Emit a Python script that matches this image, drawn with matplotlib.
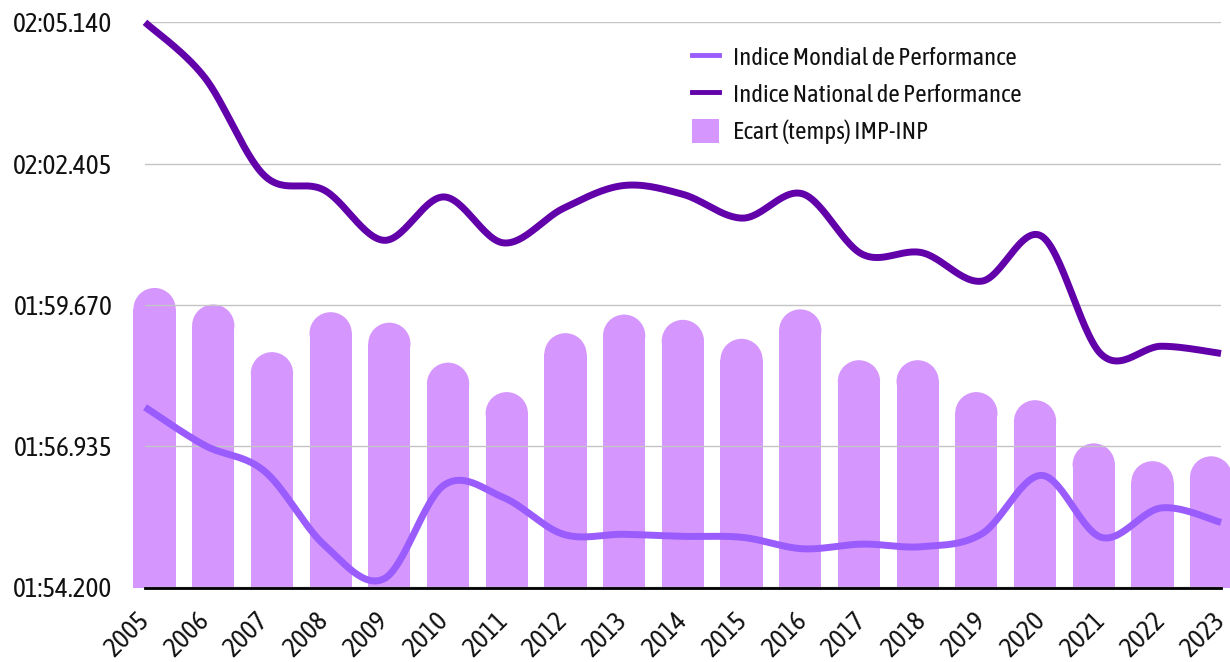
import matplotlib

matplotlib.use("Agg")
import matplotlib.pyplot as plt
import numpy as np
from matplotlib.lines import Line2D
from matplotlib.patches import Ellipse, Patch, Rectangle

plt.rcParams["font.family"] = ["Asap Condensed", "DejaVu Sans"]

years = [str(y) for y in range(2005, 2024)]

# times in seconds (01:54.200 -> 114.2)
inp = [125.14, 124.07, 122.17, 121.89, 120.92, 121.76, 120.87, 121.54, 121.98, 121.81,
       121.35, 121.82, 120.65, 120.68, 120.13, 121.00, 118.71, 118.87, 118.73]
imp = [117.69, 116.95, 116.45, 115.02, 114.37, 116.18, 115.94, 115.23, 115.23, 115.19,
       115.17, 114.95, 115.04, 114.99, 115.24, 116.37, 115.17, 115.74, 115.46]
ecart = [7.42, 7.01, 5.83, 6.82, 6.56, 5.57, 4.84, 6.30, 6.76, 6.63,
         6.16, 6.89, 5.63, 5.63, 4.84, 4.64, 3.57, 3.13, 3.25]

y_ticks = [114.2, 116.935, 119.67, 122.405, 125.14]

C_INP = "#6200aa"
C_IMP = "#9a5cfc"
C_BAR = "#d596fe"

W, H, DPI = 1230, 662, 100
RECT = [145 / W, (H - 587.5) / H, (1221 - 145) / W, (587.5 - 22.3) / H]


def fmt_time(v):
    v = round(v, 3)
    m = int(v // 60)
    return f"{m:02d}:{v - 60 * m:06.3f}"


def smooth(xs, ys, n=30, k=1.0):
    # Catmull-Rom through every point, drawn as cubic bezier pieces
    p = np.column_stack([xs, ys]).astype(float)
    p_ext = np.vstack([p[0], p, p[-1]])
    t = np.linspace(0, 1, n)[:, None]
    out = []
    for i in range(len(p) - 1):
        a, b = p_ext[i + 1], p_ext[i + 2]
        c1 = a + (p_ext[i + 2] - p_ext[i]) / 6 * k
        c2 = b - (p_ext[i + 3] - p_ext[i + 1]) / 6 * k
        seg = ((1 - t) ** 3) * a + 3 * ((1 - t) ** 2) * t * c1 + 3 * (1 - t) * t ** 2 * c2 + t ** 3 * b
        out.append(seg if i == 0 else seg[1:])
    out = np.vstack(out)
    return out[:, 0], out[:, 1]


fig = plt.figure(figsize=(W / DPI, H / DPI), dpi=DPI)

# bars live on their own hidden axes (secondary scale 0..14)
axb = fig.add_axes(RECT, zorder=1)
bx_lo, bx_hi = -0.163, 18.168
axb.set_xlim(bx_lo, bx_hi)
axb.set_ylim(0, 14)
axb.axis("off")

bar_w = 0.72
px_x = RECT[2] * W / (bx_hi - bx_lo)
px_y = RECT[3] * H / 14
r_y = bar_w / 2 * px_x / px_y
for i, v in enumerate(ecart):
    axb.add_patch(Rectangle((i - bar_w / 2, 0), bar_w, v - r_y, color=C_BAR, lw=0, clip_on=False))
    axb.add_patch(Ellipse((i, v - r_y), bar_w, 2 * r_y, color=C_BAR, lw=0, clip_on=False))

ax = fig.add_axes(RECT, zorder=2)
ax.patch.set_visible(False)
x = np.arange(len(years))
ax.set_xlim(0, len(years) - 1)
ax.set_ylim(y_ticks[0], y_ticks[-1])

sx, sy = smooth(x, imp)
ax.plot(sx, sy, color=C_IMP, lw=5, solid_capstyle="butt", clip_on=False, zorder=3)
sx, sy = smooth(x, inp)
ax.plot(sx, sy, color=C_INP, lw=5, solid_capstyle="butt", clip_on=False, zorder=4)

ax.set_yticks(y_ticks)
ax.set_yticklabels([fmt_time(v) for v in y_ticks], fontsize=19.5)
ax.set_xticks(x)
ax.set_xticklabels(years, fontsize=19.5, rotation=45, ha="right", va="center", rotation_mode="anchor")
ax.tick_params(axis="both", length=0, colors="#111111")
ax.tick_params(axis="y", pad=23.5)
ax.tick_params(axis="x", pad=21)
ax.grid(axis="y", color="#c4c4c4", lw=1.0)
ax.grid(axis="x", visible=False)
for s in ("top", "right", "left"):
    ax.spines[s].set_visible(False)
ax.spines["bottom"].set_linewidth(2.0)
ax.spines["bottom"].set_color("black")
ax.spines["bottom"].set_zorder(5)

handles = [
    Line2D([], [], color=C_IMP, lw=3.5),
    Line2D([], [], color=C_INP, lw=3.5),
    Patch(color=C_BAR, lw=0),
]
labels = ["Indice Mondial de Performance", "Indice National de Performance", "Ecart (temps) IMP-INP"]
fig.legend(handles, labels, loc="upper left", bbox_to_anchor=(692 / W, 1 - 45 / H),
           frameon=False, fontsize=17.8, labelcolor="#111111", handlelength=1.1, handleheight=1.1,
           handletextpad=0.55, labelspacing=0.47, borderpad=0, borderaxespad=0)

fig.savefig("out.png", dpi=DPI)
